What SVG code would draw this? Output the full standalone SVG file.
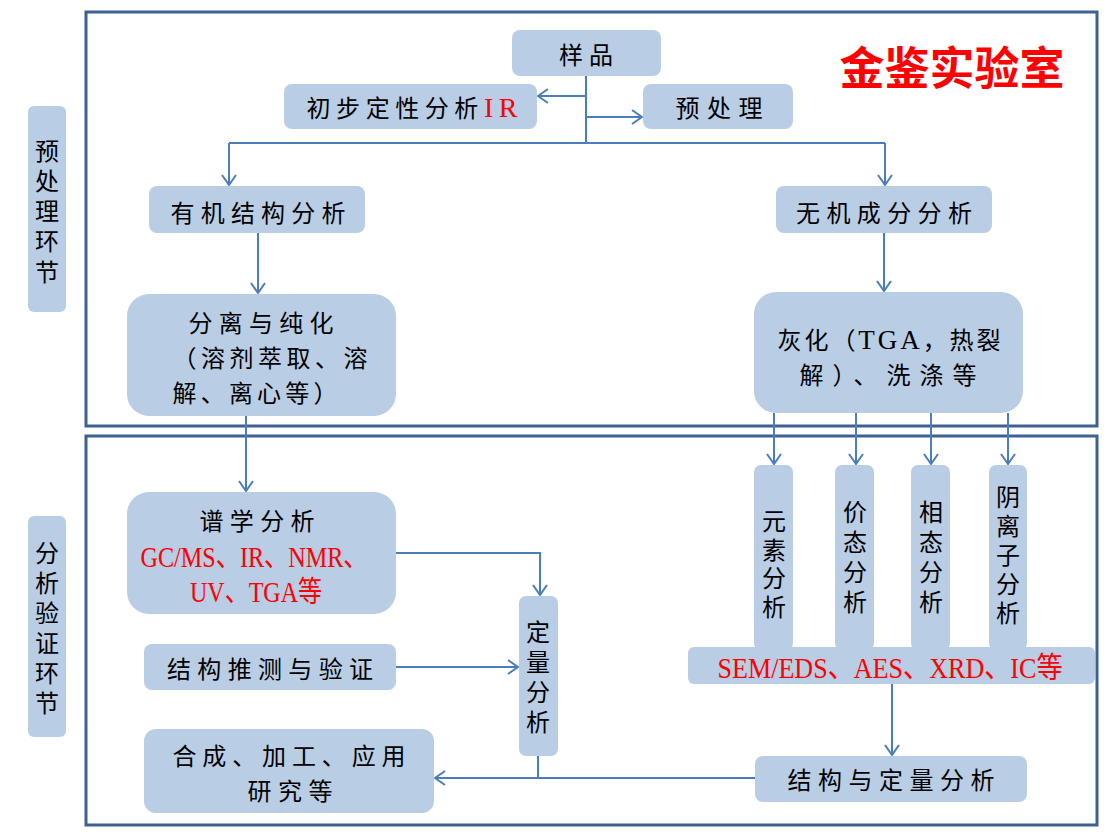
<svg xmlns="http://www.w3.org/2000/svg" width="1111" height="836" viewBox="0 0 1111 836">
<style>
.frame{fill:none;stroke:#3d6190;stroke-width:3}
.node{fill:#b9cde5;stroke:none}
.t{font-family:"Noto Sans CJK SC","Liberation Serif",sans-serif;font-size:24px;fill:#000;text-anchor:middle}
.tv{font-family:"Noto Sans CJK SC",sans-serif;font-size:24px;fill:#000;text-anchor:middle;writing-mode:vertical-rl;text-orientation:upright}
.lat{font-family:"Liberation Serif","Noto Sans CJK SC",serif;font-size:29px;fill:#ff0000;text-anchor:middle}
.red{fill:#ff0000}
.c{fill:none;stroke:#4a7ebb;stroke-width:2}
.title{font-family:"Noto Sans CJK SC",sans-serif;font-size:45px;font-weight:bold;fill:#ff0000;text-anchor:middle}
</style>
<defs>
<marker id="arr" markerWidth="12" markerHeight="16" refX="11" refY="8" orient="auto" markerUnits="userSpaceOnUse">
<path d="M1,1 L11,8 L1,15" fill="none" stroke="#4a7ebb" stroke-width="2"/>
</marker>
</defs>
<rect width="1111" height="836" fill="#ffffff"/>
<g id="frames">
<rect class="frame" x="86" y="12" width="1011" height="414"/>
<rect class="frame" x="86" y="436" width="1011" height="389"/>
</g>
<g id="title"><text class="title" x="952" y="85">金鉴实验室</text></g>
<g id="label-pre">
<rect class="node" x="28" y="106" width="38" height="206" rx="6"/>
<text class="tv" x="47" y="211" textLength="145">预处理环节</text>
</g>
<g id="label-ana">
<rect class="node" x="28" y="516" width="38" height="221" rx="6"/>
<text class="tv" x="47" y="628" textLength="174">分析验证环节</text>
</g>
<g id="connectors">
<path class="c" d="M586,76 V143"/>
<path class="c" d="M229,143 H885"/>
<path class="c" d="M229,143 V185" marker-end="url(#arr)"/>
<path class="c" d="M885,143 V185" marker-end="url(#arr)"/>
<path class="c" d="M586,96 H538" marker-end="url(#arr)"/>
<path class="c" d="M586,117 H642" marker-end="url(#arr)"/>
<path class="c" d="M258,233 V293" marker-end="url(#arr)"/>
<path class="c" d="M884,233 V291" marker-end="url(#arr)"/>
<path class="c" d="M246,416 V491" marker-end="url(#arr)"/>
<path class="c" d="M774,413 V464" marker-end="url(#arr)"/>
<path class="c" d="M856,413 V464" marker-end="url(#arr)"/>
<path class="c" d="M931,413 V464" marker-end="url(#arr)"/>
<path class="c" d="M1008,413 V464" marker-end="url(#arr)"/>
<path class="c" d="M396,553 H540 V595" marker-end="url(#arr)"/>
<path class="c" d="M396,667 H518" marker-end="url(#arr)"/>
<path class="c" d="M538,756 V778"/>
<path class="c" d="M755,778 H435" marker-end="url(#arr)"/>
<path class="c" d="M892,684 V755" marker-end="url(#arr)"/>
</g>
<g id="n-sample">
<rect class="node" x="512" y="30" width="149" height="46" rx="8"/>
<text class="t" x="586" y="64" textLength="54">样品</text>
</g>
<g id="n-ir">
<rect class="node" x="284" y="84" width="253" height="45" rx="8"/>
<text class="t" x="412" y="117" textLength="211">初步定性分析<tspan class="red" font-family="Liberation Serif" font-size="28">IR</tspan></text>
</g>
<g id="n-pre">
<rect class="node" x="643" y="84" width="150" height="45" rx="8"/>
<text class="t" x="719" y="117" textLength="87">预处理</text>
</g>
<g id="n-org">
<rect class="node" x="149" y="186" width="216" height="47" rx="8"/>
<text class="t" x="258" y="222" textLength="175">有机结构分析</text>
</g>
<g id="n-inorg">
<rect class="node" x="776" y="186" width="216" height="47" rx="8"/>
<text class="t" x="884" y="222" textLength="176">无机成分分析</text>
</g>
<g id="n-sep">
<rect class="node" x="127" y="294" width="269" height="122" rx="22"/>
<text class="t" x="261" y="332" textLength="145">分离与纯化</text>
<text class="t" x="270" y="367" textLength="195">（溶剂萃取、溶</text>
<text class="t" x="255" y="402" textLength="165">解、离心等）</text>
</g>
<g id="n-ash">
<rect class="node" x="754" y="292" width="269" height="121" rx="22"/>
<text class="t" x="889" y="349" textLength="223">灰化（<tspan font-family="Liberation Serif" font-size="27">TGA</tspan>，热裂</text>
<text class="t" x="888" y="384" textLength="177">解）、洗涤等</text>
</g>
<g id="n-elem">
<rect class="node" x="754" y="465" width="39" height="185" rx="7"/>
<text class="tv" x="774" y="564" textLength="110">元素分析</text>
</g>
<g id="n-val">
<rect class="node" x="835" y="465" width="39" height="185" rx="7"/>
<text class="tv" x="855" y="557" textLength="114">价态分析</text>
</g>
<g id="n-phase">
<rect class="node" x="911" y="465" width="39" height="185" rx="7"/>
<text class="tv" x="931" y="557" textLength="114">相态分析</text>
</g>
<g id="n-anion">
<rect class="node" x="989" y="465" width="38" height="185" rx="7"/>
<text class="tv" x="1008" y="555" textLength="140">阴离子分析</text>
</g>
<g id="n-sem">
<rect class="node" x="688" y="647" width="407" height="37" rx="6"/>
<text class="lat" x="890" y="678" textLength="345" lengthAdjust="spacingAndGlyphs">SEM/EDS、AES、XRD、IC等</text>
</g>
<g id="n-struct-quant">
<rect class="node" x="755" y="756" width="272" height="46" rx="8"/>
<text class="t" x="891" y="789" textLength="207">结构与定量分析</text>
</g>
<g id="n-spec">
<rect class="node" x="127" y="492" width="269" height="122" rx="22"/>
<text class="t" x="257" y="530" textLength="115">谱学分析</text>
<text class="lat" x="254" y="567" textLength="227" lengthAdjust="spacingAndGlyphs">GC/MS、IR、NMR、</text>
<text class="lat" x="256" y="602" textLength="132" lengthAdjust="spacingAndGlyphs">UV、TGA等</text>
</g>
<g id="n-infer">
<rect class="node" x="144" y="644" width="252" height="46" rx="8"/>
<text class="t" x="270" y="678" textLength="206">结构推测与验证</text>
</g>
<g id="n-quant">
<rect class="node" x="519" y="596" width="39" height="160" rx="7"/>
<text class="tv" x="538" y="677" textLength="114">定量分析</text>
</g>
<g id="n-app">
<rect class="node" x="144" y="729" width="290" height="84" rx="12"/>
<text class="t" x="289" y="765" textLength="233">合成、加工、应用</text>
<text class="t" x="290" y="800" textLength="85">研究等</text>
</g>
</svg>
